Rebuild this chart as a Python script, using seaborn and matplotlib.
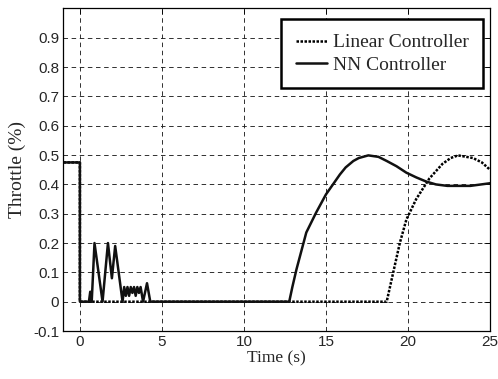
import matplotlib
matplotlib.use('Agg')
import matplotlib.pyplot as plt
import numpy as np
import pandas as pd
import seaborn as sns

# time (s) and throttle values
t_nn = [-1, 0, 0, 0.55, 0.63, 0.72, 0.89, 1.38, 1.71, 1.95, 2.15, 2.60,
        2.70, 2.80, 2.90, 3.00, 3.10, 3.20, 3.30, 3.40, 3.50, 3.60, 3.70, 3.85,
        4.09, 4.29, 12.76, 12.95, 13.2, 13.8, 14.4, 15.0, 15.85, 16.2, 16.67,
        17.0, 17.58, 18.2, 18.7, 19.3, 19.9, 20.5, 21.1, 21.7, 22.4, 23.8, 25]
nn = [0.475, 0.475, 0, 0, 0.034, 0, 0.2, 0, 0.2, 0.08, 0.19, 0,
      0.05, 0.02, 0.05, 0.02, 0.05, 0.03, 0.05, 0.02, 0.05, 0.03, 0.05, 0,
      0.063, 0, 0, 0.05, 0.11, 0.236, 0.304, 0.366, 0.434, 0.458, 0.48,
      0.49, 0.499, 0.494, 0.48, 0.462, 0.44, 0.424, 0.41, 0.40, 0.395, 0.395, 0.404]

t_lin = [-1, 0, 0, 18.7, 19.1, 19.5, 19.9, 20.5, 21.3, 22.1, 22.6, 23.05,
         23.96, 24.5, 25]
lin = [0.475, 0.475, 0, 0, 0.10, 0.20, 0.28, 0.35, 0.42, 0.47, 0.49, 0.499,
       0.49, 0.475, 0.45]

sns.set_style('white')
plt.rcParams['font.family'] = ['Liberation Sans', 'DejaVu Sans']

fig = plt.figure(figsize=(4.98, 3.79), dpi=100)
ax = fig.add_axes([0.1275, 0.1266, 0.8565, 0.851])

df_lin = pd.DataFrame({'t': t_lin, 'v': lin})
df_nn = pd.DataFrame({'t': t_nn, 'v': nn})
sns.lineplot(data=df_lin, x='t', y='v', sort=False, estimator=None, color='black',
             lw=1.8, linestyle=(0, (1, 0.6)), label='Linear Controller', ax=ax)
sns.lineplot(data=df_nn, x='t', y='v', sort=False, estimator=None, color='#111111',
             lw=1.8, label='NN Controller', ax=ax)

ax.set_xlim(-1, 25)
ax.set_ylim(-0.1, 1.0)
ax.set_xticks([0, 5, 10, 15, 20, 25])
ax.set_yticks(np.round(np.arange(-0.1, 0.95, 0.1), 1))
ax.set_yticklabels(['-0.1', '0', '0.1', '0.2', '0.3', '0.4', '0.5', '0.6', '0.7', '0.8', '0.9'])
ax.tick_params(direction='in', length=4, width=0.6, top=True, right=True,
               labelsize=11, pad=3, color='black')
ax.grid(True, color='#222222', lw=0.65, linestyle=(0, (5, 4)))
for s in ax.spines.values():
    s.set_color('black')
    s.set_linewidth(0.9)

ax.set_xlabel('Time (s)', fontsize=12.5, family='Liberation Serif', labelpad=1)
ax.set_ylabel('Throttle (%)', fontsize=14, family='Liberation Serif', labelpad=5)

leg = ax.legend(loc='upper right', prop={'family': 'Liberation Serif', 'size': 14},
                fancybox=False, framealpha=1, edgecolor='black', handlelength=1.6,
                borderpad=0.75, labelspacing=0.25, handletextpad=0.3,
                borderaxespad=0, bbox_to_anchor=(0.984, 0.967))
leg.get_frame().set_linewidth(1.8)

fig.savefig('out.png', dpi=100)
